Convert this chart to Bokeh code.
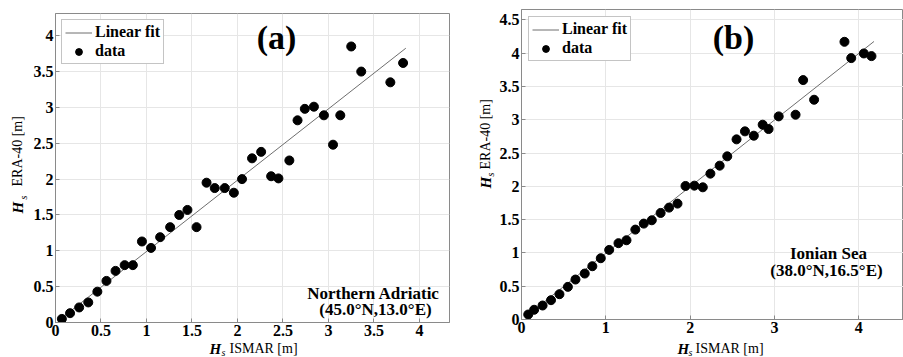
import math
from bokeh.plotting import figure
from bokeh.layouts import row, column
from bokeh.models import Label, Legend, LegendItem, Range1d, FixedTicker
from bokeh.embed import file_html
from bokeh.resources import INLINE

FONT = "Liberation Serif"

# ---- data: panel (a) Northern Adriatic ----
a_x = [0.07, 0.16, 0.26, 0.36, 0.46, 0.56, 0.66, 0.76, 0.85, 0.95, 1.05, 1.15,
       1.26, 1.36, 1.45, 1.55, 1.66, 1.75, 1.86, 1.96, 2.05, 2.16, 2.26, 2.37,
       2.45, 2.57, 2.66, 2.74, 2.84, 2.95, 3.05, 3.13, 3.25, 3.36, 3.68, 3.82]
a_y = [0.05, 0.13, 0.21, 0.28, 0.43, 0.58, 0.72, 0.80, 0.80, 1.13, 1.04, 1.19,
       1.33, 1.50, 1.57, 1.33, 1.95, 1.875, 1.875, 1.81, 2.00, 2.29, 2.38, 2.04,
       2.01, 2.26, 2.82, 2.98, 3.01, 2.89, 2.48, 2.89, 3.85, 3.50, 3.35, 3.62]
a_fit_x = [0.05, 3.85]
a_slope, a_icpt = 0.995, -0.005

# ---- data: panel (b) Ionian Sea ----
b_x = [0.08, 0.15, 0.25, 0.35, 0.45, 0.55, 0.64, 0.75, 0.84, 0.94, 1.04, 1.15,
       1.245, 1.35, 1.45, 1.545, 1.65, 1.75, 1.85, 1.945, 2.05, 2.15, 2.24, 2.35,
       2.44, 2.55, 2.65, 2.755, 2.86, 2.93, 3.05, 3.25, 3.34, 3.47, 3.83, 3.91,
       4.06, 4.15]
b_y = [0.075, 0.146, 0.21, 0.29, 0.38, 0.49, 0.60, 0.69, 0.80, 0.92, 1.045, 1.146,
       1.19, 1.35, 1.44, 1.49, 1.60, 1.68, 1.74, 2.005, 2.01, 1.985, 2.19, 2.31,
       2.45, 2.705, 2.825, 2.76, 2.925, 2.86, 3.05, 3.075, 3.595, 3.30, 4.17, 3.925,
       3.995, 3.955]
b_fit_x = [0.07, 4.18]
b_slope, b_icpt = 1.0, -0.005

a_xticks = [0, 0.5, 1, 1.5, 2, 2.5, 3, 3.5, 4]
a_yticks = [0, 0.5, 1, 1.5, 2, 2.5, 3, 3.5, 4]
b_xticks = [0, 1, 2, 3, 4]
b_yticks = [0, 0.5, 1, 1.5, 2, 2.5, 3, 3.5, 4, 4.5]

AXC = "#8a8a8a"
GRIDC = "#e6e6e6"


def lab(p, text, x, y, size, style="bold", angle=0, align="left", baseline="alphabetic"):
    p.add_layout(Label(x=x, y=y, x_units="screen", y_units="screen", text=text,
                       text_font=FONT, text_font_size=size, text_font_style=style,
                       text_color="black", angle=angle, text_align=align,
                       text_baseline=baseline))


def strip(w, h):
    f = figure(frame_width=w, frame_height=h, output_backend="svg", toolbar_location=None,
               x_range=Range1d(0, w), y_range=Range1d(0, h), title=None,
               x_axis_type=None, y_axis_type=None, min_border=0,
               min_border_left=0, min_border_right=0, min_border_top=0,
               min_border_bottom=0)
    f.outline_line_color = None
    f.background_fill_color = "white"
    f.border_fill_color = "white"
    return f


def panel(width, height, bl, br, bt, bb, xend, yend, xticks, yticks,
          xs, ys, fitx, slope, icpt, legend_margin):
    p = figure(width=width, height=height, output_backend="svg", toolbar_location=None,
               x_range=Range1d(0, xend), y_range=Range1d(0, yend),
               min_border_left=bl, min_border_right=br, min_border_top=bt,
               min_border_bottom=bb)
    p.background_fill_color = "white"
    p.border_fill_color = "white"
    p.outline_line_color = AXC
    for ax, ticks in ((p.xaxis[0], xticks), (p.yaxis[0], yticks)):
        ax.ticker = FixedTicker(ticks=ticks)
        ax.axis_line_color = AXC
        ax.major_tick_line_color = AXC
        ax.major_tick_in = 4
        ax.major_tick_out = 0
        ax.minor_tick_line_color = None
        ax.major_label_text_font = FONT
        ax.major_label_text_font_style = "bold"
        ax.major_label_text_font_size = "16px"
        ax.major_label_text_color = "black"
        ax.major_label_standoff = 2
        ax.major_label_overrides = {t: ("%g" % t) for t in ticks}
    p.grid.grid_line_color = GRIDC
    p.grid.grid_line_width = 1

    fy = [slope * v + icpt for v in fitx]
    r_line = p.line(fitx, fy, line_color="#6e6e6e", line_width=1)
    r_pts = p.scatter(xs, ys, size=9, fill_color="black", line_color="black")

    leg = Legend(items=[LegendItem(label="Linear fit", renderers=[r_line]),
                        LegendItem(label="data", renderers=[r_pts])],
                 location="top_left", orientation="vertical")
    leg.label_text_font = FONT
    leg.label_text_font_style = "bold"
    leg.label_text_font_size = "16px"
    leg.label_text_color = "black"
    leg.label_height = 17
    leg.glyph_height = 17
    leg.glyph_width = 27
    leg.label_standoff = 3
    leg.spacing = 1
    leg.padding = 3
    leg.margin = legend_margin
    leg.border_line_color = AXC
    leg.border_line_width = 1
    leg.background_fill_color = "white"
    leg.background_fill_alpha = 1
    p.add_layout(leg, "center")
    return p


# ---------- panel (a): page frame left 55, right 449, top 13, bottom 322 ----------
yl1 = strip(28, 357)
p1 = panel(427, 342, 27, 6, 13, 20, 4.33, 4.31, a_xticks, a_yticks,
           a_x, a_y, a_fit_x, a_slope, a_icpt, 6)
xl1 = strip(427, 15)
lab(p1, "(a)", 221, 285, "34px", align="center", baseline="middle")
lab(p1, "Northern Adriatic", 318, 29, "17px", align="center")
lab(p1, "(45.0°N,13.0°E)", 320, 13, "17px", align="center")
# x label (strip frame is aligned with the panel frame: page x 55)
lab(xl1, "H", 154, 9, "15px", style="bold italic")
lab(xl1, "s", 166, 5, "10px", style="italic")
lab(xl1, "ISMAR [m]", 174, 9, "14px", style="normal")
# y label (rotated), strip origin page x 0
lab(yl1, "H", 17, 144, "15px", style="bold italic", angle=math.pi / 2, baseline="middle")
lab(yl1, "s", 23, 158, "10px", style="italic", angle=math.pi / 2, baseline="middle")
lab(yl1, "ERA-40 [m]", 17, 171, "14px", style="normal", angle=math.pi / 2, baseline="middle")

# ---------- panel (b): page frame left 521, right 903, top 9, bottom 319 ----------
yl2 = strip(40, 357)
p2 = panel(408, 342, 26, 0, 9, 23, 4.53, 4.655, b_xticks, b_yticks,
           b_x, b_y, b_fit_x, b_slope, b_icpt, 7)
xl2 = strip(408, 15)
lab(p2, "(b)", 212, 282, "34px", align="center", baseline="middle")
lab(p2, "Ionian Sea", 307, 66, "17px", align="center")
lab(p2, "(38.0°N,16.5°E)", 305, 49, "17px", align="center")
# x label (strip frame aligned with the panel frame: page x 521)
lab(xl2, "H", 156, 9, "15px", style="bold italic")
lab(xl2, "s", 167, 5, "10px", style="italic")
lab(xl2, "ISMAR [m]", 174, 9, "14px", style="normal")
# y label (strip origin page x 455)
lab(yl2, "H", 30, 169, "15px", style="bold italic", angle=math.pi / 2, baseline="middle")
lab(yl2, "s", 35, 181, "10px", style="italic", angle=math.pi / 2, baseline="middle")
lab(yl2, "ERA-40 [m]", 30, 188, "14px", style="normal", angle=math.pi / 2, baseline="middle")

layout = row(row(yl1, column(p1, xl1)), row(yl2, column(p2, xl2)))
open("out.html", "w").write(file_html(layout, INLINE))
